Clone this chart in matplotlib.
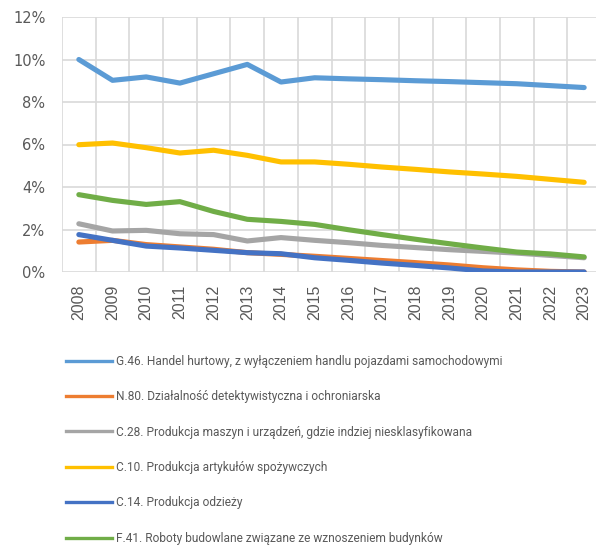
import matplotlib
matplotlib.use("Agg")
import matplotlib.pyplot as plt
from matplotlib.lines import Line2D
from matplotlib.ticker import PercentFormatter, MultipleLocator

years = [str(y) for y in range(2008, 2024)]

g46 = [10.0, 9.02, 9.18, 8.89, 9.33, 9.77, 8.94, 9.14, 9.09, 9.05, 9.00, 8.96, 8.91, 8.86, 8.77, 8.68]
n80 = [1.41, 1.49, 1.29, 1.18, 1.07, 0.91, 0.83, 0.74, 0.64, 0.54, 0.44, 0.33, 0.20, 0.10, 0.03, 0.00]
c28 = [2.27, 1.93, 1.96, 1.80, 1.76, 1.46, 1.62, 1.49, 1.38, 1.25, 1.15, 1.05, 0.97, 0.89, 0.78, 0.67]
c10 = [5.99, 6.07, 5.85, 5.60, 5.73, 5.49, 5.18, 5.18, 5.07, 4.94, 4.83, 4.71, 4.61, 4.50, 4.36, 4.22]
c14 = [1.76, 1.49, 1.22, 1.13, 1.02, 0.91, 0.86, 0.67, 0.55, 0.42, 0.31, 0.19, 0.05, 0.00, 0.00, 0.00]
f41 = [3.64, 3.37, 3.18, 3.31, 2.85, 2.48, 2.38, 2.24, 1.99, 1.76, 1.54, 1.33, 1.13, 0.94, 0.85, 0.71]

series = [
    ("G.46. Handel hurtowy, z wyłączeniem handlu pojazdami samochodowymi", g46, "#5B9BD5"),
    ("N.80. Działalność detektywistyczna i ochroniarska", n80, "#ED7D31"),
    ("C.28. Produkcja maszyn i urządzeń, gdzie indziej niesklasyfikowana", c28, "#A5A5A5"),
    ("C.10. Produkcja artykułów spożywczych", c10, "#FFC000"),
    ("C.14. Produkcja odzieży", c14, "#4472C4"),
    ("F.41. Roboty budowlane związane ze wznoszeniem budynków", f41, "#70AD47"),
]

text_color = "#595959"
grid_color = "#D9D9D9"

fig = plt.figure(figsize=(5.96, 5.46), dpi=100)
ax = fig.add_axes([62 / 596, 1 - 272 / 546, 539 / 596, 255 / 546])

x = list(range(len(years)))
for label, vals, color in series:
    ax.plot(x, vals, color=color, lw=3.7, solid_capstyle="round", solid_joinstyle="round",
            label=label, zorder=3)

ax.set_xlim(-0.5, len(years) - 0.5)
ax.set_ylim(0, 12)
ax.yaxis.set_major_locator(MultipleLocator(2))
ax.yaxis.set_major_formatter(PercentFormatter(decimals=0))
ax.set_xticks(x)
ax.set_xticklabels(years, rotation=90, fontsize=11.5, color=text_color,
                   family="Liberation Sans")
ax.set_xticks([i - 0.5 for i in range(len(years) + 1)], minor=True)
ax.tick_params(axis="x", which="both", length=0, pad=9)
ax.tick_params(axis="y", length=0, pad=12, labelsize=10.5, labelcolor=text_color)

ax.grid(axis="y", which="major", color=grid_color, lw=1.2)
ax.grid(axis="x", which="minor", color=grid_color, lw=1.2)
ax.set_axisbelow(True)
for s in ax.spines.values():
    s.set_visible(False)

# legend below the plot, one series per row
handles = [Line2D([], [], color=c, lw=2.4) for _, _, c in series]
labels = [lab for lab, _, _ in series]
fig.legend(handles, labels, loc="upper left", bbox_to_anchor=(66 / 596, 1 - 355 / 546),
           frameon=False, handlelength=3.85, handletextpad=0.33,
           labelspacing=1.87, borderpad=0, borderaxespad=0,
           prop={"family": "Roboto", "size": 8.6},
           labelcolor=text_color)

fig.savefig("out.png", dpi=100)
